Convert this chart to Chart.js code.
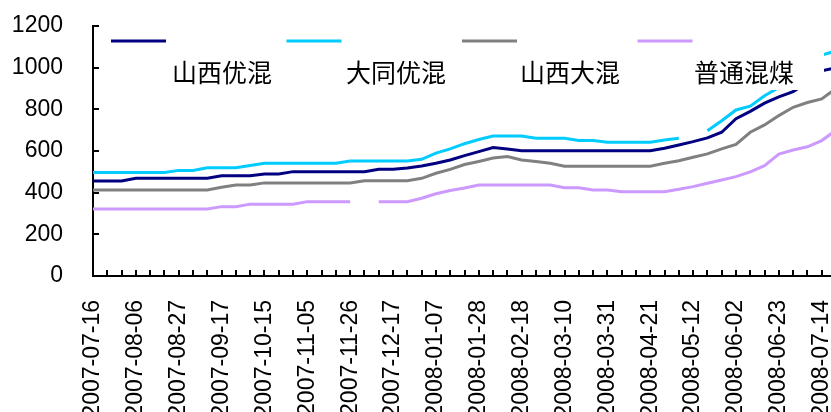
<!DOCTYPE html>
<html>
<head>
<meta charset="utf-8">
<script src="https://cdn.jsdelivr.net/npm/chart.js@4/dist/chart.umd.min.js"></script>
<style>
  html, body { margin: 0; padding: 0; background: #fff; overflow: hidden; }
  #wrap { width: 831px; height: 412px; overflow: hidden; }
</style>
</head>
<body>
<div id="wrap"><canvas id="coalChart" width="838" height="412"></canvas></div>
<script>
// Weekly report dates (no report in the National Day week)
const dates = [
  '2007-07-16', '2007-07-23', '2007-07-30', '2007-08-06', '2007-08-13', '2007-08-20',
  '2007-08-27', '2007-09-03', '2007-09-10', '2007-09-17', '2007-09-24', '2007-10-08',
  '2007-10-15', '2007-10-22', '2007-10-29', '2007-11-05', '2007-11-12', '2007-11-19',
  '2007-11-26', '2007-12-03', '2007-12-10', '2007-12-17', '2007-12-24', '2007-12-31',
  '2008-01-07', '2008-01-14', '2008-01-21', '2008-01-28', '2008-02-04', '2008-02-11',
  '2008-02-18', '2008-02-25', '2008-03-03', '2008-03-10', '2008-03-17', '2008-03-24',
  '2008-03-31', '2008-04-07', '2008-04-14', '2008-04-21', '2008-04-28', '2008-05-05',
  '2008-05-12', '2008-05-19', '2008-05-26', '2008-06-02', '2008-06-09', '2008-06-16',
  '2008-06-23', '2008-06-30', '2008-07-07', '2008-07-14', '2008-07-21'
];

const seriesNames = ['山西优混', '大同优混', '山西大混', '普通混煤'];

// 山西优混
const shanxiYouhun = [
  456, 456, 456, 469, 469, 469, 469, 469, 469, 481, 481, 481,
  490, 490, 501, 501, 501, 501, 501, 501, 512, 512, 518, 528,
  541, 557, 578, 597, 617, 610, 601, 601, 601, 601, 601, 601,
  601, 601, 601, 601, 613, 629, 645, 663, 690, 755, 790, 830,
  860, 885, 930, 985, 1000
];

// 大同优混
const datongYouhun = [
  497, 497, 497, 497, 497, 497, 507, 507, 520, 520, 520, 530,
  541, 541, 541, 541, 541, 541, 552, 552, 552, 552, 552, 560,
  590, 610, 635, 655, 672, 672, 672, 661, 661, 661, 650, 650,
  642, 642, 642, 642, 653, 661, null, 697, 745, 797, 815, 865,
  905, 950, 1005, 1060, 1080
];

// 山西大混
const shanxiDahun = [
  413, 413, 413, 413, 413, 413, 413, 413, 413, 426, 437, 437,
  447, 447, 447, 447, 447, 447, 447, 457, 457, 457, 457, 469,
  493, 512, 535, 550, 566, 573, 557, 550, 541, 527, 527, 527,
  527, 527, 527, 527, 541, 553, 570, 586, 610, 632, 690, 725,
  770, 810, 833, 850, 900
];

// 普通混煤
const putongHunmei = [
  322, 322, 322, 322, 322, 322, 322, 322, 322, 333, 333, 345,
  345, 345, 345, 357, 357, 357, 357, null, 357, 357, 357, 373,
  395, 410, 422, 437, 437, 437, 437, 437, 437, 424, 424, 413,
  413, 405, 405, 405, 405, 416, 429, 445, 461, 477, 500, 530,
  585, 605, 620, 650, 700
];

const yTicks = [0, 200, 400, 600, 800, 1000, 1200];

const lineColors = ['#000080', '#00ccff', '#808080', '#cc99ff'];

// Inward tick marks on both axes
const innerTicks = {
  id: 'innerTicks',
  afterDraw(chart) {
    const ctx = chart.ctx;
    const xs = chart.scales.x;
    const ys = chart.scales.y;
    const area = chart.chartArea;
    ctx.save();
    ctx.strokeStyle = '#000';
    ctx.lineWidth = 2;
    ctx.beginPath();
    xs.ticks.forEach((t, i) => {
      const px = Math.round(xs.getPixelForTick(i));
      ctx.moveTo(px, area.bottom);
      ctx.lineTo(px, area.bottom - 6);
    });
    ys.ticks.forEach((t, i) => {
      const py = Math.round(ys.getPixelForTick(i));
      ctx.moveTo(area.left, py);
      ctx.lineTo(area.left + 6, py);
    });
    ctx.stroke();
    ctx.restore();
  }
};

// Legend box with white fill laid over the top of the plot
const boxLegend = {
  id: 'boxLegend',
  afterDraw(chart) {
    const ctx = chart.ctx;
    ctx.save();
    ctx.fillStyle = '#fff';
    ctx.fillRect(102, 28, 722, 62);
    ctx.font = '25px "Noto Sans CJK SC"';
    ctx.textAlign = 'center';
    ctx.textBaseline = 'middle';
    chart.data.datasets.forEach((ds, i) => {
      const lx = 111 + i * 175.5;
      ctx.strokeStyle = ds.borderColor;
      ctx.lineWidth = 3;
      ctx.beginPath();
      ctx.moveTo(lx, 41);
      ctx.lineTo(lx + 55, 41);
      ctx.stroke();
      ctx.fillStyle = '#000';
      ctx.fillText(ds.label, 222 + i * 174, 72);
    });
    ctx.restore();
  }
};

const ctx = document.getElementById('coalChart').getContext('2d');
const coalChart = new Chart(ctx, {
  type: 'line',
  data: {
    labels: dates,
    datasets: [shanxiYouhun, datongYouhun, shanxiDahun, putongHunmei].map((vals, i) => ({
      label: seriesNames[i],
      data: vals,
      borderColor: lineColors[i],
      backgroundColor: lineColors[i],
      borderWidth: 3,
      pointRadius: 0,
      tension: 0,
      spanGaps: false
    }))
  },
  options: {
    responsive: false,
    animation: false,
    layout: { padding: { top: 26, right: 2, bottom: 0, left: 0 } },
    plugins: {
      legend: { display: false },
      tooltip: { enabled: false }
    },
    scales: {
      x: {
        grid: { display: false },
        border: { display: true, color: '#000', width: 2 },
        afterFit: (s) => {
          s.height = 136;
          s.paddingLeft = 0;
          s.paddingRight = 0;
        },
        ticks: {
          autoSkip: false,
          maxRotation: 90,
          minRotation: 90,
          padding: 16,
          color: '#000',
          font: { family: '"Liberation Sans", Arial', size: 23 },
          callback: function (val, idx) {
            return idx % 3 === 0 ? this.getLabelForValue(val) : '';
          }
        }
      },
      y: {
        min: 0,
        max: 1200,
        grid: { display: false },
        border: { display: true, color: '#000', width: 2 },
        afterFit: (s) => {
          s.width = 93;
          s.paddingTop = 0;
          s.paddingBottom = 0;
        },
        afterBuildTicks: (s) => { s.ticks = yTicks.map(v => ({ value: v })); },
        ticks: {
          padding: 22,
          color: '#000',
          font: { family: '"Liberation Sans", Arial', size: 23 },
          callback: (v) => String(v)
        }
      }
    }
  },
  plugins: [innerTicks, boxLegend]
});
</script>
</body>
</html>
